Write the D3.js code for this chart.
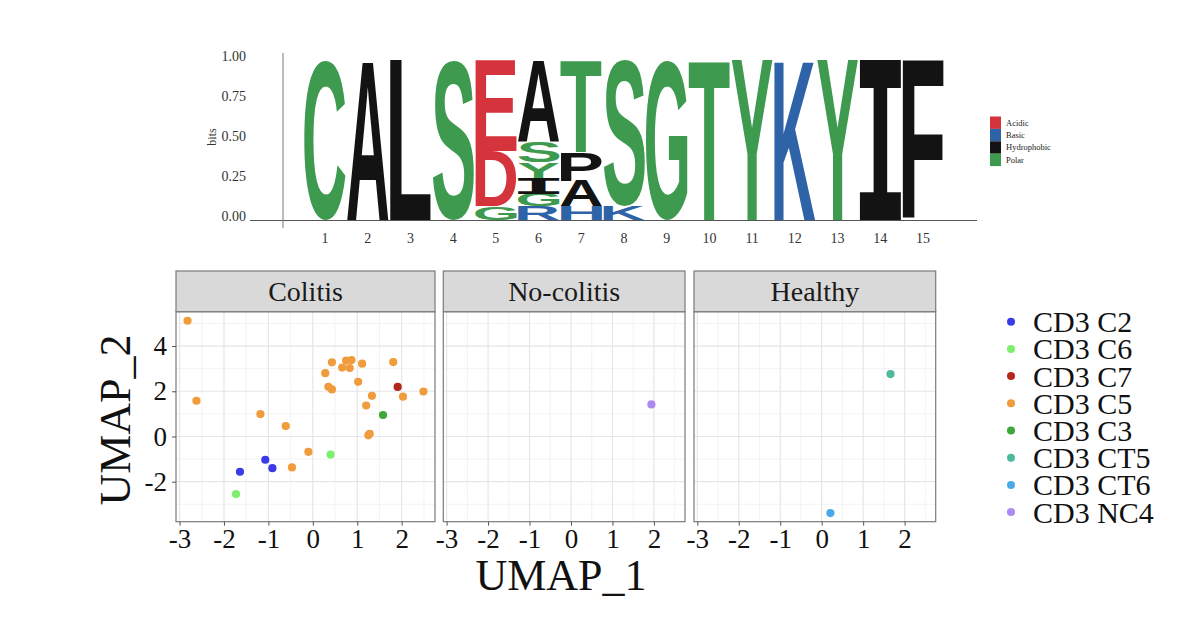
<!DOCTYPE html>
<html>
<head>
<meta charset="utf-8">
<script src="https://cdn.jsdelivr.net/npm/d3@7"></script>
<style>
body { margin:0; background:#fff; }
</style>
</head>
<body>
<svg id="chart" width="1200" height="619"></svg>
<script>
// sequence logo: letters per position, bottom to top, with their heights in bits
var logoPositions = [1,2,3,4,5,6,7,8,9,10,11,12,13,14,15];
var logoLetters = [["C"],["A"],["L"],["S"],["G","D","E"],["R","G","I","Y","S","A"],["H","A","P","T"],["K","S"],["G"],["T"],["Y"],["K"],["Y"],["I"],["F"]];
var logoBits = [[1],[1],[1],[1],[0.085,0.345,0.57],[0.085,0.08,0.10,0.095,0.13,0.51],[0.085,0.16,0.18,0.575],[0.085,0.915],[1],[1],[1],[1],[1],[1],[1]];
var logoTicks = [0, 0.25, 0.5, 0.75, 1];
var aaClasses = ["Acidic","Basic","Hydrophobic","Polar"];
var aaClassColors = ["#d6343d","#2f63a8","#131313","#3e9a4e"];
var aaClassLetters = ["DE","HKR","AVLIPWFM","GSTYCQN"];

// umap facets
var facetNames = ["Colitis","No-colitis","Healthy"];
var clusterNames = ["CD3 C2","CD3 C6","CD3 C7","CD3 C5","CD3 C3","CD3 CT5","CD3 CT6","CD3 NC4"];
var clusterColors = ["#3a3ae6","#7cf06c","#b3281c","#f09c3c","#3ea83c","#4dbb9b","#4aa9e8","#ae8af0"];
var umapTicksX = [-3,-2,-1,0,1,2];
var umapTicksY = [-2,0,2,4];
// [facet, cluster, UMAP_1, UMAP_2]
var umapPoints = [
    ["Colitis","CD3 C5",-2.82,5.12],
    ["Colitis","CD3 C5",-2.62,1.58],
    ["Colitis","CD3 C5",-1.18,0.99],
    ["Colitis","CD3 C5",-0.61,0.46],
    ["Colitis","CD3 C5",-0.10,-0.68],
    ["Colitis","CD3 C5",-0.47,-1.37],
    ["Colitis","CD3 C6",0.40,-0.80],
    ["Colitis","CD3 C2",-1.07,-1.03],
    ["Colitis","CD3 C2",-0.91,-1.40],
    ["Colitis","CD3 C2",-1.64,-1.56],
    ["Colitis","CD3 C6",-1.73,-2.55],
    ["Colitis","CD3 C5",0.28,2.80],
    ["Colitis","CD3 C5",0.43,3.28],
    ["Colitis","CD3 C5",0.35,2.20],
    ["Colitis","CD3 C5",0.43,2.08],
    ["Colitis","CD3 C5",0.66,3.05],
    ["Colitis","CD3 C5",0.75,3.36],
    ["Colitis","CD3 C5",0.87,3.38],
    ["Colitis","CD3 C5",0.83,3.03],
    ["Colitis","CD3 C5",1.11,3.22],
    ["Colitis","CD3 C5",1.02,2.42],
    ["Colitis","CD3 C5",1.33,1.80],
    ["Colitis","CD3 C5",1.20,1.37],
    ["Colitis","CD3 C5",1.25,0.05],
    ["Colitis","CD3 C5",1.28,0.12],
    ["Colitis","CD3 C3",1.58,0.95],
    ["Colitis","CD3 C5",1.81,3.29],
    ["Colitis","CD3 C7",1.91,2.19],
    ["Colitis","CD3 C5",2.03,1.76],
    ["Colitis","CD3 C5",2.49,1.99],
    ["No-colitis","CD3 NC4",1.94,1.42],
    ["Healthy","CD3 CT5",1.66,2.76],
    ["Healthy","CD3 CT6",0.21,-3.39]
];

var svg = d3.select("#chart");
svg.append("rect").attr("width",1200).attr("height",619).attr("fill","#fff");

var serif = "'Liberation Serif','Times New Roman',serif";
var measureCtx = document.createElement("canvas").getContext("2d");

function letterColor(ch) {
    for (var i=0;i<aaClasses.length;i++) {
        if(aaClassLetters[i].indexOf(ch)>=0) return aaClassColors[i];
    }
    return "#000";
};

function drawGlyph(g,ch,x0,x1,yTop,yBottom,color) {
    // stretch the glyph ink box into the given rectangle
    var family = ch=="I" ? "'DejaVu Sans Mono'" : "'Liberation Sans'";
    measureCtx.font = "bold 100px " + family;
    var m = measureCtx.measureText(ch);
    var w = m.actualBoundingBoxLeft + m.actualBoundingBoxRight;
    var h = m.actualBoundingBoxAscent + m.actualBoundingBoxDescent;
    var sx = (x1-x0)/w, sy = (yBottom-yTop)/h;
    g.append("text")
        .attr("font-family",family)
        .attr("font-weight","bold")
        .attr("font-size",100)
        .attr("fill",color)
        .attr("transform","translate("+(x0+m.actualBoundingBoxLeft*sx)+","+(yTop+m.actualBoundingBoxAscent*sy)+") scale("+sx+","+sy+")")
        .text(ch);
};

function drawLogo() {
    var x = d3.scaleLinear().domain([1,15]).range([325,923]);
    var y = d3.scaleLinear().domain([0,1]).range([220,60.5]);
    var letterWidth = 41.5;
    var g = svg.append("g").attr("class","logo");

    logoPositions.forEach(function(p,i){
        var base = 0;
        logoLetters[i].forEach(function(ch,j){
            var top = base + logoBits[i][j];
            drawGlyph(g,ch,x(p)-letterWidth/2,x(p)+letterWidth/2,y(top),y(base),letterColor(ch));
            base = top;
        });
    });

    g.append("line").attr("x1",250).attr("x2",977).attr("y1",220.5).attr("y2",220.5)
        .attr("stroke","#555").attr("stroke-width",1);
    g.append("line").attr("x1",283).attr("x2",283).attr("y1",53).attr("y2",228)
        .attr("stroke","#777").attr("stroke-width",1);

    g.selectAll("text.ytick").data(logoTicks).enter().append("text")
        .attr("class","ytick")
        .attr("x",246).attr("y",function(d){return y(d)-4;})
        .attr("dy","0.35em")
        .attr("text-anchor","end")
        .attr("font-family",serif).attr("font-size",14).attr("fill","#333")
        .text(function(d){return d.toFixed(2);});

    g.selectAll("text.xtick").data(logoPositions).enter().append("text")
        .attr("class","xtick")
        .attr("x",function(d){return x(d);}).attr("y",243)
        .attr("text-anchor","middle")
        .attr("font-family",serif).attr("font-size",14).attr("fill","#333")
        .text(function(d){return d;});

    g.append("text")
        .attr("transform","translate(216,137) rotate(-90)")
        .attr("text-anchor","middle")
        .attr("font-family",serif).attr("font-size",12).attr("fill","#333")
        .text("bits");

    // residue class legend
    var lg = g.append("g").attr("transform","translate(990,116.5)");
    lg.selectAll("rect").data(aaClasses).enter().append("rect")
        .attr("x",0).attr("y",function(d,i){return i*12.4;})
        .attr("width",11).attr("height",12.4)
        .attr("fill",function(d,i){return aaClassColors[i];});
    lg.selectAll("text").data(aaClasses).enter().append("text")
        .attr("x",16).attr("y",function(d,i){return i*12.4+6.2;})
        .attr("dy","0.35em")
        .attr("font-family",serif).attr("font-size",8.5).attr("fill","#222")
        .text(function(d){return d;});
};

function drawUmap() {
    var panelX = [[176,435],[443.3,685],[694,935.7]];
    var stripTop = 271, panelTop = 311.7, panelBottom = 521.7;
    var y = d3.scaleLinear().domain([-3.77,5.52]).range([panelBottom,panelTop]);
    var color = d3.scaleOrdinal().domain(clusterNames).range(clusterColors);

    facetNames.forEach(function(facet,fi){
        var x = d3.scaleLinear().domain([-3.08,2.75]).range(panelX[fi]);
        var g = svg.append("g").attr("class","facet");
        var x0 = panelX[fi][0], x1 = panelX[fi][1];

        // minor and major grid
        var minorX = d3.range(-2.5,2.75,1), minorY = d3.range(-3,5.6,2);
        g.selectAll("line.mx").data(minorX).enter().append("line")
            .attr("x1",function(d){return x(d);}).attr("x2",function(d){return x(d);})
            .attr("y1",panelTop).attr("y2",panelBottom)
            .attr("stroke","#f0f0f0").attr("stroke-width",0.8);
        g.selectAll("line.my").data(minorY).enter().append("line")
            .attr("x1",x0).attr("x2",x1)
            .attr("y1",function(d){return y(d);}).attr("y2",function(d){return y(d);})
            .attr("stroke","#f0f0f0").attr("stroke-width",0.8);
        g.selectAll("line.gx").data(umapTicksX).enter().append("line")
            .attr("x1",function(d){return x(d);}).attr("x2",function(d){return x(d);})
            .attr("y1",panelTop).attr("y2",panelBottom)
            .attr("stroke","#e6e6e6").attr("stroke-width",1.2);
        g.selectAll("line.gy").data(umapTicksY).enter().append("line")
            .attr("x1",x0).attr("x2",x1)
            .attr("y1",function(d){return y(d);}).attr("y2",function(d){return y(d);})
            .attr("stroke","#e6e6e6").attr("stroke-width",1.2);

        g.selectAll("circle").data(umapPoints.filter(function(d){return d[0]==facet;}))
            .enter().append("circle")
            .attr("cx",function(d){return x(d[2]);})
            .attr("cy",function(d){return y(d[3]);})
            .attr("r",4.1)
            .attr("fill",function(d){return color(d[1]);});

        g.append("rect").attr("x",x0).attr("y",panelTop)
            .attr("width",x1-x0).attr("height",panelBottom-panelTop)
            .attr("fill","none").attr("stroke","#7a7a7a").attr("stroke-width",1.2);

        // strip
        g.append("rect").attr("x",x0).attr("y",stripTop)
            .attr("width",x1-x0).attr("height",panelTop-stripTop)
            .attr("fill","#d9d9d9").attr("stroke","#7a7a7a").attr("stroke-width",1.2);
        g.append("text").attr("x",(x0+x1)/2).attr("y",(stripTop+panelTop)/2)
            .attr("dy","0.33em").attr("text-anchor","middle")
            .attr("font-family",serif).attr("font-size",28).attr("fill","#1a1a1a")
            .text(facet);

        // x axis
        var xAxis = g.append("g").attr("transform","translate(0,"+panelBottom+")")
            .call(d3.axisBottom(x).tickValues(umapTicksX).tickSize(4).tickPadding(3).tickFormat(d3.format("d")));
        xAxis.select(".domain").remove();
        xAxis.selectAll("line").attr("stroke","#555");
        xAxis.selectAll("text").attr("font-family",serif).attr("font-size",27).attr("fill","#111")
            .text(function(d){return String(d);});

        if(fi==0) {
            var yAxis = g.append("g").attr("transform","translate("+x0+",0)")
                .call(d3.axisLeft(y).tickValues(umapTicksY).tickSize(4).tickPadding(5).tickFormat(d3.format("d")));
            yAxis.select(".domain").remove();
            yAxis.selectAll("line").attr("stroke","#555");
            yAxis.selectAll("text").attr("font-family",serif).attr("font-size",27).attr("fill","#111")
                .text(function(d){return String(d);});
        }
    });

    svg.append("text").attr("x",561).attr("y",590)
        .attr("text-anchor","middle")
        .attr("font-family",serif).attr("font-size",44).attr("fill","#111")
        .text("UMAP_1");
    svg.append("text").attr("transform","translate(130,420) rotate(-90)")
        .attr("text-anchor","middle")
        .attr("font-family",serif).attr("font-size",44).attr("fill","#111")
        .text("UMAP_2");

    // cluster legend
    var lg = svg.append("g").attr("class","legend");
    var items = lg.selectAll("g").data(clusterNames).enter().append("g")
        .attr("transform",function(d,i){return "translate(1011,"+(321.7+i*27.2)+")";});
    items.append("circle").attr("r",4).attr("fill",function(d){return color(d);});
    items.append("text").attr("x",22).attr("dy","0.35em")
        .attr("font-family",serif).attr("font-size",30).attr("fill","#111")
        .text(function(d){return d;});
};

drawLogo();
drawUmap();
</script>
</body>
</html>
